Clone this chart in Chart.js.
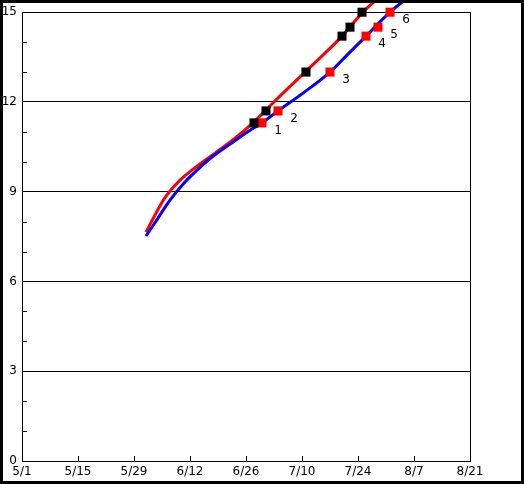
<!DOCTYPE html>
<html>
<head>
<meta charset="utf-8">
<script src="https://cdn.jsdelivr.net/npm/chart.js@4"></script>
<style>
  html, body { margin: 0; padding: 0; background: #fff; }
</style>
</head>
<body>
<canvas id="myChart" width="524" height="484"></canvas>
<script>
// x values are days counted from 5/1
const xTickLabels = ["5/1", "5/15", "5/29", "6/12", "6/26", "7/10", "7/24", "8/7", "8/21"];

const redDays = [31.0, 33.25, 36.0, 39.5, 43.75, 48.25, 53.25, 57.75, 60.75, 65.75, 70.75, 75.75, 80.0, 85.0, 88.75];
const redValues = [7.65, 8.22, 8.85, 9.39, 9.85, 10.29, 10.79, 11.3, 11.7, 12.36, 13.0, 13.63, 14.2, 14.97, 15.44];

const blueDays = [31.0, 34.0, 37.0, 40.25, 43.75, 47.5, 52.0, 56.25, 60.0, 64.0, 70.5, 77.0, 81.5, 86.0, 92.0, 96.0];
const blueValues = [7.52, 8.12, 8.72, 9.25, 9.72, 10.16, 10.59, 10.99, 11.3, 11.7, 12.32, 13.0, 13.6, 14.2, 15.0, 15.44];

const markerValues = [11.3, 11.7, 13.0, 14.2, 14.5, 15.0];
const blackMarkerDays = [58, 61, 71, 80, 82, 85];
const redMarkerDays = [60, 64, 77, 86, 89, 92];
const markerLabels = ["1", "2", "3", "4", "5", "6"];

const FONT = "12px 'DejaVu Sans'";

const toPoints = (xs, ys) => xs.map((x, i) => ({ x: x, y: ys[i] }));

// frame, minor ticks and the number labels
const extras = {
  id: "extras",
  beforeDraw(chart) {
    const c = chart.ctx;
    c.save();
    c.fillStyle = "#fff";
    c.fillRect(0, 0, chart.width, chart.height);
    c.restore();
  },
  afterDraw(chart) {
    const c = chart.ctx;
    const area = chart.chartArea;
    const xs = chart.scales.x, ys = chart.scales.y;
    c.save();
    c.strokeStyle = "#000";
    c.lineWidth = 1;
    c.beginPath();
    for (let v = 1; v < 15; v++) {
      if (v % 3 === 0) continue;
      const y = Math.round(ys.getPixelForValue(v)) + 0.5;
      c.moveTo(area.left, y);
      c.lineTo(area.left + 5, y);
    }
    for (let v = 14; v < 112; v += 14) {
      const x = Math.round(xs.getPixelForValue(v)) + 0.5;
      c.moveTo(x, area.bottom);
      c.lineTo(x, area.bottom - 5);
    }
    c.stroke();

    c.fillStyle = "#000";
    c.font = FONT;
    c.textAlign = "center";
    c.textBaseline = "middle";
    markerLabels.forEach((t, i) => {
      const x = xs.getPixelForValue(redMarkerDays[i]);
      const y = ys.getPixelForValue(markerValues[i]);
      c.fillText(t, x + 16, y + 8);
    });

    c.lineWidth = 3;
    c.strokeRect(1.5, 1.5, chart.width - 3, chart.height - 3);
    c.restore();
  },
};

var ctx = document.getElementById("myChart").getContext("2d");
var myChart = new Chart(ctx, {
  type: "scatter",
  data: {
    datasets: [
      {
        data: toPoints(blackMarkerDays, markerValues),
        pointStyle: "rect",
        pointRadius: 6.4,
        backgroundColor: "#000",
        borderWidth: 0,
        clip: false,
      },
      {
        data: toPoints(redMarkerDays, markerValues),
        pointStyle: "rect",
        pointRadius: 6.4,
        backgroundColor: "#ff0000",
        borderWidth: 0,
        clip: false,
      },
      {
        data: toPoints(blueDays, blueValues),
        showLine: true,
        borderColor: "#0000ff",
        borderWidth: 3,
        pointRadius: 0,
        tension: 0.4,
        clip: false,
      },
      {
        data: toPoints(redDays, redValues),
        showLine: true,
        borderColor: "#ff0000",
        borderWidth: 3,
        pointRadius: 0,
        tension: 0.4,
        clip: false,
      },
    ],
  },
  options: {
    responsive: false,
    animation: false,
    layout: { padding: { top: 12, right: 54, left: 0, bottom: 0 } },
    plugins: { legend: { display: false }, tooltip: { enabled: false } },
    scales: {
      x: {
        type: "linear",
        min: 0,
        max: 112,
        afterFit: (s) => { s.height = 23; },
        border: { display: true, color: "#000", width: 1 },
        grid: {
          drawTicks: false,
          color: (c) => (c.tick && c.tick.value === 112 ? "#000" : "rgba(0,0,0,0)"),
        },
        ticks: {
          stepSize: 14,
          autoSkip: false,
          maxRotation: 0,
          padding: 4,
          color: "#000",
          font: { family: "DejaVu Sans", size: 12 },
          callback: (value) => xTickLabels[Math.round(value / 14)],
        },
      },
      y: {
        min: 0,
        max: 15,
        afterFit: (s) => { s.width = 22; },
        border: { display: true, color: "#000", width: 1 },
        grid: {
          drawTicks: false,
          color: (c) => (c.tick && c.tick.value > 0 && c.tick.value % 3 === 0 ? "#000" : "rgba(0,0,0,0)"),
        },
        ticks: {
          stepSize: 1,
          autoSkip: false,
          padding: 5,
          color: "#000",
          font: { family: "DejaVu Sans", size: 12 },
          callback: (value) => (value % 3 === 0 ? value : ""),
        },
      },
    },
  },
  plugins: [extras],
});
</script>
</body>
</html>
